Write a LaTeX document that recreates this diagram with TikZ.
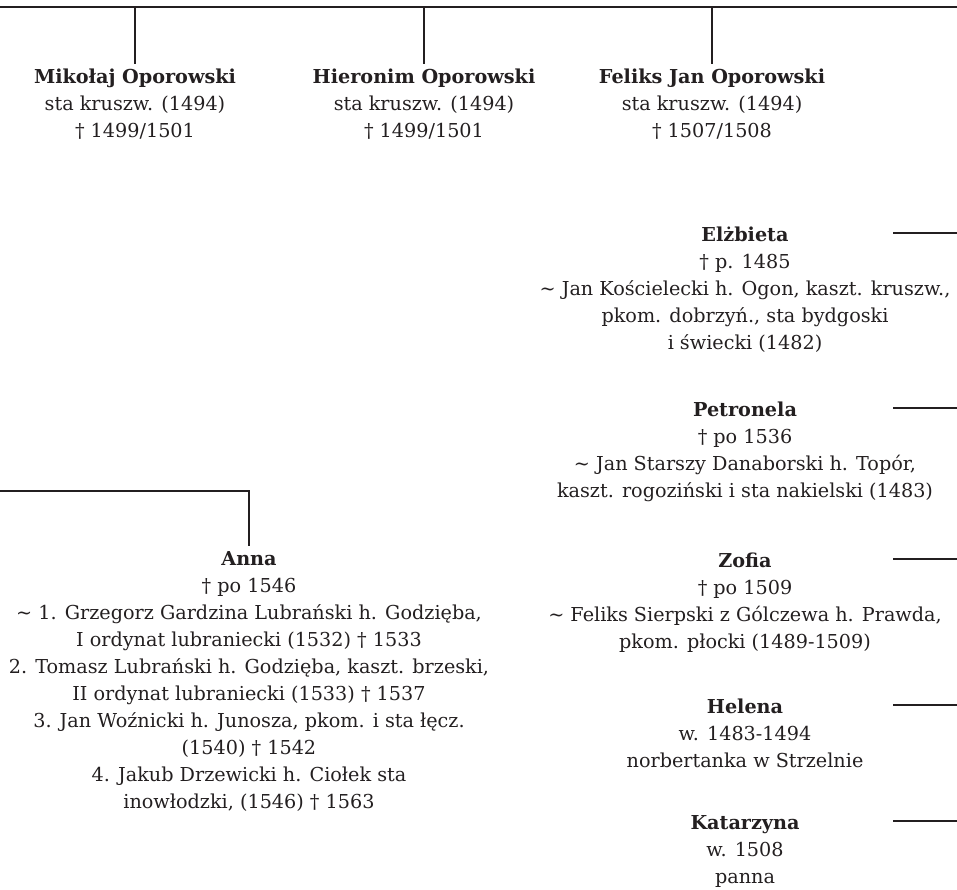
\documentclass[tikz,border=0pt]{standalone}
\usepackage{fontspec}
\setmainfont{DejaVu Serif}
\definecolor{ink}{HTML}{231F20}
\begin{document}
\begin{tikzpicture}[x=1pt,y=-1pt,
  person/.style={anchor=north,align=center,inner sep=0pt,text=ink,
    font=\fontsize{19.2}{27}\selectfont},
  line/.style={draw=ink,line width=2.7pt}]
\useasboundingbox (0,0) rectangle (957,890);
\newcommand{\nm}[1]{\strut\textbf{#1}}
\newcommand{\tl}{\textasciitilde}
% top row
\node[person] (mik) at (135,64) {\nm{Mikołaj Oporowski}\\sta kruszw. (1494)\\† 1499/1501};
\node[person] (hie) at (424,64) {\nm{Hieronim Oporowski}\\sta kruszw. (1494)\\† 1499/1501};
\node[person] (fel) at (712,64) {\nm{Feliks Jan Oporowski}\\sta kruszw. (1494)\\† 1507/1508};
\coordinate (tL) at (0,7);
\coordinate (tR) at (957,7);
\coordinate (tm) at (135,7);
\coordinate (th) at (424,7);
\coordinate (tf) at (712,7);
\draw[line] (tL) -- (tR);
\draw[line] (tm) -- (mik.north);
\draw[line] (th) -- (hie.north);
\draw[line] (tf) -- (fel.north);
% right column
\node[person] (elz) at (745,222) {\nm{Elżbieta}\\† p. 1485\\\tl{} Jan Kościelecki h. Ogon, kaszt. kruszw.,\\pkom. dobrzyń., sta bydgoski\\i świecki (1482)};
\node[person] (pet) at (745,397) {\nm{Petronela}\\† po 1536\\\tl{} Jan Starszy Danaborski h. Topór,\\kaszt. rogoziński i sta nakielski (1483)};
\node[person] (zof) at (745,548) {\nm{Zofia}\\† po 1509\\\tl{} Feliks Sierpski z Gólczewa h. Prawda,\\pkom. płocki (1489-1509)};
\node[person] (hel) at (745,694) {\nm{Helena}\\w. 1483-1494\\norbertanka w Strzelnie};
\node[person] (kat) at (745,810) {\nm{Katarzyna}\\w. 1508\\panna};
\foreach \n/\y in {elz/233,pet/408,zof/559,hel/705,kat/821}{
  \coordinate (\n a) at (893,\y);
  \coordinate (\n b) at (957,\y);
  \draw[line] (\n a) -- (\n b);
}
% Anna
\node[person] (ann) at (249,546) {\nm{Anna}\\† po 1546\\\tl{} 1. Grzegorz Gardzina Lubrański h. Godzięba,\\I ordynat lubraniecki (1532) † 1533\\2. Tomasz Lubrański h. Godzięba, kaszt. brzeski,\\II ordynat lubraniecki (1533) † 1537\\3. Jan Woźnicki h. Junosza, pkom. i sta łęcz.\\(1540) † 1542\\4. Jakub Drzewicki h. Ciołek sta\\inowłodzki, (1546) † 1563};
\coordinate (aL) at (0,491);
\coordinate (aC) at (249,491);
\draw[line] (aL) -- (aC) -- (ann.north);
\end{tikzpicture}
\end{document}
